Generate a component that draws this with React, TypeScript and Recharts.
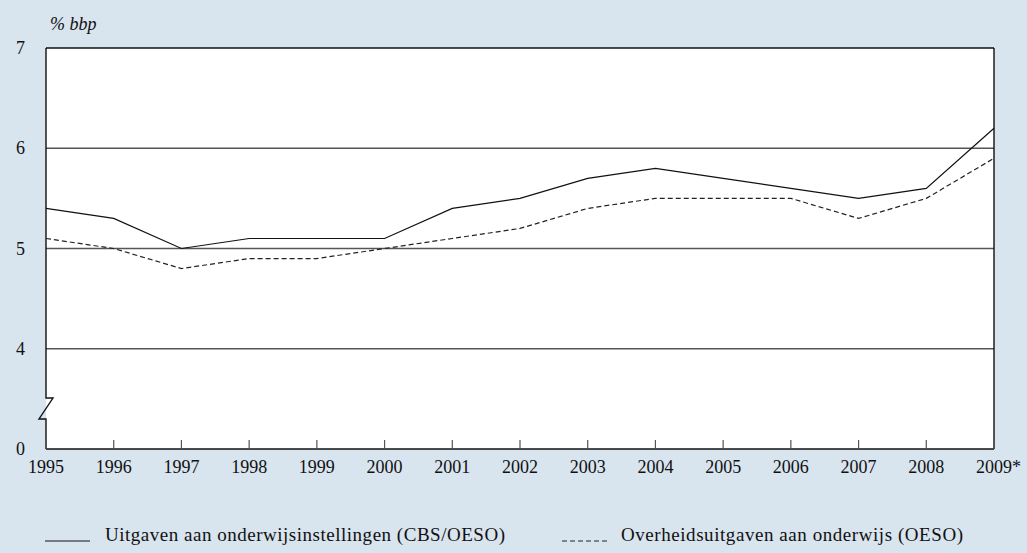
import React from 'react';
import { LineChart, Line, XAxis, YAxis, ReferenceLine } from 'recharts';

const years = [1995, 1996, 1997, 1998, 1999, 2000, 2001, 2002, 2003, 2004, 2005, 2006, 2007, 2008, 2009];
const instellingen = [5.4, 5.3, 5.0, 5.1, 5.1, 5.1, 5.4, 5.5, 5.7, 5.8, 5.7, 5.6, 5.5, 5.6, 6.2];
const overheid = [5.1, 5.0, 4.8, 4.9, 4.9, 5.0, 5.1, 5.2, 5.4, 5.5, 5.5, 5.5, 5.3, 5.5, 5.9];
const yTicks = [3, 4, 5, 6, 7];
const yTickLabels = ['0', '4', '5', '6', '7'];
const gridValues = [4, 5, 6];
const seriesNames = ['Uitgaven aan onderwijsinstellingen (CBS/OESO)', 'Overheidsuitgaven aan onderwijs (OESO)'];
const unitLabel = '% bbp';

const data = years.map((y, i) => ({ year: y, a: instellingen[i], b: overheid[i] }));

const FONT = '"Liberation Serif", "Times New Roman", serif';
const FS = 18;
const LFS = 19;
const BG = '#d8e4ee';
const DASH = '5 3';
const yMin = yTicks[0];
const yMax = yTicks[yTicks.length - 1];
const xMin = years[0];
const xMax = years[years.length - 1];
const W = 1027;
const H = 553;
const Y_AXIS_W = 46;
const X_AXIS_H = 104;
const MARGIN = { top: 48, right: 33, left: 0, bottom: 0 };

const XTick = (props: any) => {
  const { x, y, payload } = props;
  const v = payload.value;
  const last = v === xMax;
  return (
    <g>
      <line x1={x} y1={y - 9} x2={x} y2={y} stroke="#555" strokeWidth={1.2} />
      <text x={x} y={y + 24} textAnchor="middle" fontFamily={FONT} fontSize={FS} fill="#111">
        {String(v)}
      </text>
      {last ? (
        <text x={x + 18} y={y + 24} textAnchor="start" fontFamily={FONT} fontSize={FS} fill="#111">*</text>
      ) : null}
    </g>
  );
};

const YTick = (props: any) => {
  const { y, payload } = props;
  const idx = yTicks.indexOf(payload.value);
  return (
    <text x={25} y={y + 6} textAnchor="end" fontFamily={FONT} fontSize={FS} fill="#111">
      {yTickLabels[idx]}
    </text>
  );
};

const BrokenAxis = (props: any) => {
  const { x1, y1, y2 } = props;
  const top = Math.min(y1, y2);
  const bot = Math.max(y1, y2);
  const h = bot - top;
  const b1 = top + h * 0.873;
  const b2 = top + h * 0.925;
  const d = `M${x1},${top} L${x1},${b1} L${x1 + 7},${b1} L${x1 - 7},${b2} L${x1},${b2} L${x1},${bot}`;
  return (
    <g>
      <rect x={x1 - 9} y={b1} width={8} height={b2 - b1} fill={BG} />
      <path d={d} fill="none" stroke="#111" strokeWidth={1.4} />
    </g>
  );
};

export default function App() {
  return (
    <div style={{ position: 'absolute', left: 0, top: 0, width: W, height: H, backgroundColor: BG, overflow: 'hidden' }}>
      <div
        style={{
          position: 'absolute',
          left: Y_AXIS_W + MARGIN.left,
          top: MARGIN.top,
          width: W - Y_AXIS_W - MARGIN.left - MARGIN.right,
          height: H - MARGIN.top - X_AXIS_H - MARGIN.bottom,
          backgroundColor: '#ffffff',
        }}
      />
      <div style={{ position: 'absolute', left: 50, top: 15, fontFamily: FONT, fontStyle: 'italic', fontSize: 18, lineHeight: '18px', color: '#111' }}>
        {unitLabel}
      </div>
      <div style={{ position: 'absolute', left: 0, top: 0 }}>
        <LineChart width={W} height={H} data={data} margin={MARGIN}>
          <XAxis
            dataKey="year"
            type="number"
            domain={[xMin, xMax]}
            ticks={years}
            height={X_AXIS_H}
            tickSize={0}
            tickMargin={0}
            tickLine={false}
            axisLine={{ stroke: '#111', strokeWidth: 1.4 }}
            tick={<XTick />}
            interval={0}
          />
          <YAxis
            type="number"
            domain={[yMin, yMax]}
            ticks={yTicks}
            width={Y_AXIS_W}
            axisLine={false}
            tickLine={false}
            tick={<YTick />}
            interval={0}
          />
          {gridValues.map((g) => (
            <ReferenceLine key={g} y={g} stroke="#555" strokeWidth={1.3} />
          ))}
          <ReferenceLine y={yMax} stroke="#111" strokeWidth={1.4} />
          <ReferenceLine x={xMax} stroke="#111" strokeWidth={1.4} />
          <ReferenceLine x={xMin} shape={<BrokenAxis />} />
          <Line dataKey="a" stroke="#111" strokeWidth={1.2} dot={false} isAnimationActive={false} />
          <Line dataKey="b" stroke="#222" strokeWidth={1.2} strokeDasharray={DASH} dot={false} isAnimationActive={false} />
        </LineChart>
      </div>
      <svg style={{ position: 'absolute', left: 0, top: 0 }} width={W} height={H}>
        <line x1={45} y1={541} x2={90} y2={541} stroke="#111" strokeWidth={1.1} />
        <text x={105} y={541} fontFamily={FONT} fontSize={LFS} fill="#111" textLength={400} lengthAdjust="spacing">{seriesNames[0]}</text>
        <line x1={562} y1={541} x2={608} y2={541} stroke="#222" strokeWidth={1.1} strokeDasharray={DASH} />
        <text x={621} y={541} fontFamily={FONT} fontSize={LFS} fill="#111" textLength={342} lengthAdjust="spacing">{seriesNames[1]}</text>
      </svg>
    </div>
  );
}
